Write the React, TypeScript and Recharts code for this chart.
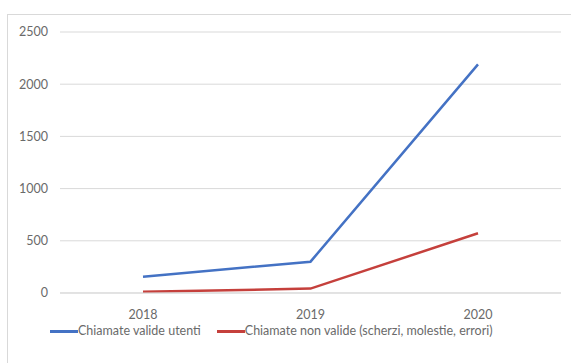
import React from 'react';
import { LineChart, Line, XAxis, YAxis, CartesianGrid, Legend } from 'recharts';

const years = ['2018', '2019', '2020'];
const valideUtenti = [155, 300, 2190];
const nonValide = [12, 42, 572];
const yTicks = [0, 500, 1000, 1500, 2000, 2500];
const seriesNames = ['Chiamate valide utenti', 'Chiamate non valide (scherzi, molestie, errori)'];
const seriesColors = ['#4472c4', '#c5403c'];

const data = years.map((year, i) => ({
    year,
    valide: valideUtenti[i],
    nonValide: nonValide[i],
}));

const FONT = 'Lato, "Open Sans", sans-serif';
const TEXT = '#6a6a6a';

// legend in series order, line swatch directly against the label
const LegendRow = () => (
    <div style={{ display: 'flex', justifyContent: 'flex-start', paddingLeft: 50, gap: 16, fontFamily: FONT, fontSize: 12.5, lineHeight: '16px', color: TEXT }}>
        {seriesNames.map((name, i) => (
            <div key={name} style={{ display: 'flex', alignItems: 'center' }}>
                <span style={{ display: 'inline-block', width: 28, height: 3, background: seriesColors[i] }} />
                <span>{name}</span>
            </div>
        ))}
    </div>
);

export default function App() {
    return (
        <div style={{ position: 'absolute', left: 0, top: 0, width: 571, height: 363, background: '#fff', overflow: 'hidden' }}>
            {/* chart frame */}
            <div style={{ position: 'absolute', left: 7, top: 14, width: 580, height: 360, border: '1px solid #d9d9d9' }} />
            <LineChart
                width={571}
                height={363}
                data={data}
                margin={{ top: 32, right: 10, bottom: 19, left: 0 }}
                style={{ position: 'absolute', left: 0, top: 0 }}
            >
                <CartesianGrid vertical={false} stroke="#d9d9d9" />
                <XAxis
                    dataKey="year"
                    padding={{ left: 83, right: 83 }}
                    axisLine={{ stroke: '#d9d9d9' }}
                    tickLine={false}
                    tickMargin={11}
                    height={23}
                    tick={{ fill: TEXT, fontSize: 12.5, fontFamily: FONT }}
                />
                <YAxis
                    width={60}
                    domain={[0, 2500]}
                    ticks={yTicks}
                    axisLine={false}
                    tickLine={false}
                    tickMargin={6}
                    tick={{ fill: TEXT, fontSize: 12.5, fontFamily: FONT }}
                />
                <Legend
                    verticalAlign="bottom"
                    height={28}
                    wrapperStyle={{ top: 323, left: 0, bottom: 'auto' }}
                    content={<LegendRow />}
                />
                <Line
                    name={seriesNames[0]}
                    dataKey="valide"
                    type="linear"
                    stroke={seriesColors[0]}
                    strokeWidth={2.5}
                    dot={false}
                    isAnimationActive={false}
                />
                <Line
                    name={seriesNames[1]}
                    dataKey="nonValide"
                    type="linear"
                    stroke={seriesColors[1]}
                    strokeWidth={2.5}
                    dot={false}
                    isAnimationActive={false}
                />
            </LineChart>
        </div>
    );
}
